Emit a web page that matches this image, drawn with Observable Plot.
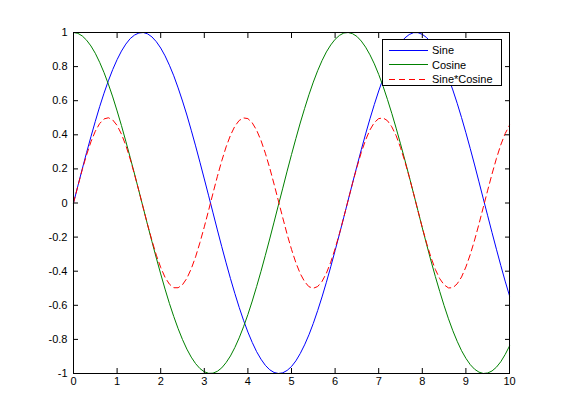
<!DOCTYPE html>
<html>
<head>
<meta charset="utf-8">
<script src="https://cdn.jsdelivr.net/npm/d3@7"></script>
<script src="https://cdn.jsdelivr.net/npm/@observablehq/plot@0.6"></script>
<style>
  html, body { margin: 0; padding: 0; background: white; }
  #wrap { position: relative; width: 561px; height: 420px; }
  #legend {
    position: absolute; left: 382px; top: 39px; width: 120px; height: 47px;
    border: 1px solid black; background: white; box-sizing: border-box;
    font-family: "Liberation Sans", Arial, sans-serif; font-size: 11px; color: black;
    padding-top: 3px;
  }
  .row { display: flex; align-items: center; height: 14.5px; }
  .row svg { margin-left: 6px; margin-right: 4px; }
</style>
</head>
<body>
<div id="wrap"><div id="legend"></div></div>
<script>
// x samples
const xs = [0,0.1,0.2,0.3,0.4,0.5,0.6,0.7,0.8,0.9,1,1.1,1.2,1.3,1.4,1.5,1.6,1.7,1.8,1.9,2,2.1,2.2,2.3,2.4,2.5,2.6,2.7,2.8,2.9,3,3.1,3.2,3.3,3.4,3.5,3.6,3.7,3.8,3.9,4,4.1,4.2,4.3,4.4,4.5,4.6,4.7,4.8,4.9,5,5.1,5.2,5.3,5.4,5.5,5.6,5.7,5.8,5.9,6,6.1,6.2,6.3,6.4,6.5,6.6,6.7,6.8,6.9,7,7.1,7.2,7.3,7.4,7.5,7.6,7.7,7.8,7.9,8,8.1,8.2,8.3,8.4,8.5,8.6,8.7,8.8,8.9,9,9.1,9.2,9.3,9.4,9.5,9.6,9.7,9.8,9.9,10];
const sine = [0.000,0.100,0.199,0.296,0.389,0.479,0.565,0.644,0.717,0.783,0.841,0.891,0.932,0.964,0.985,0.997,1.000,0.992,0.974,0.946,0.909,0.863,0.808,0.746,0.675,0.598,0.516,0.427,0.335,0.239,0.141,0.042,-0.058,-0.158,-0.256,-0.351,-0.443,-0.530,-0.612,-0.688,-0.757,-0.818,-0.872,-0.916,-0.952,-0.978,-0.994,-1.000,-0.996,-0.982,-0.959,-0.926,-0.883,-0.832,-0.773,-0.706,-0.631,-0.551,-0.465,-0.374,-0.279,-0.182,-0.083,0.017,0.117,0.215,0.312,0.405,0.494,0.578,0.657,0.729,0.794,0.850,0.899,0.938,0.968,0.988,0.999,0.999,0.989,0.970,0.941,0.902,0.855,0.798,0.734,0.663,0.585,0.501,0.412,0.319,0.223,0.124,0.024,-0.075,-0.174,-0.271,-0.366,-0.458,-0.544];
const cosine = [1.000,0.995,0.980,0.955,0.921,0.878,0.825,0.765,0.697,0.622,0.540,0.454,0.362,0.267,0.170,0.071,-0.029,-0.129,-0.227,-0.323,-0.416,-0.505,-0.589,-0.666,-0.737,-0.801,-0.857,-0.904,-0.942,-0.971,-0.990,-0.999,-0.998,-0.987,-0.967,-0.936,-0.897,-0.848,-0.791,-0.726,-0.654,-0.575,-0.490,-0.401,-0.307,-0.211,-0.112,-0.012,0.087,0.187,0.284,0.378,0.469,0.554,0.635,0.709,0.776,0.835,0.886,0.927,0.960,0.983,0.997,1.000,0.993,0.977,0.950,0.914,0.869,0.816,0.754,0.685,0.608,0.526,0.439,0.347,0.252,0.155,0.055,-0.045,-0.146,-0.244,-0.340,-0.432,-0.519,-0.602,-0.679,-0.749,-0.811,-0.866,-0.911,-0.948,-0.975,-0.992,-1.000,-0.997,-0.985,-0.963,-0.931,-0.889,-0.839];
const sineCosine = [0.000,0.099,0.195,0.282,0.359,0.421,0.466,0.493,0.500,0.487,0.455,0.404,0.338,0.258,0.167,0.071,-0.029,-0.128,-0.221,-0.306,-0.378,-0.436,-0.476,-0.497,-0.497,-0.479,-0.442,-0.386,-0.316,-0.232,-0.140,-0.042,0.058,0.156,0.247,0.329,0.397,0.450,0.484,0.499,0.495,0.470,0.427,0.367,0.292,0.206,0.111,0.012,-0.087,-0.184,-0.272,-0.350,-0.414,-0.461,-0.491,-0.500,-0.490,-0.460,-0.412,-0.347,-0.268,-0.179,-0.083,0.017,0.116,0.210,0.296,0.370,0.429,0.472,0.495,0.499,0.483,0.447,0.395,0.325,0.244,0.153,0.055,-0.045,-0.144,-0.237,-0.320,-0.390,-0.444,-0.480,-0.498,-0.497,-0.474,-0.434,-0.375,-0.302,-0.217,-0.123,-0.024,0.075,0.171,0.261,0.341,0.407,0.456];

const seriesNames = ["Sine", "Cosine", "Sine*Cosine"];
const seriesColors = ["#0000ff", "#008000", "#ff0000"];
const seriesDash = [null, null, "6,4"];
const xTicks = [0,1,2,3,4,5,6,7,8,9,10];
const yTicks = [-1,-0.8,-0.6,-0.4,-0.2,0,0.2,0.4,0.6,0.8,1];

const seriesValues = [sine, cosine, sineCosine];
const tables = seriesValues.map((vals, i) => xs.map((x, j) => ({x, y: vals[j], series: seriesNames[i]})));

const fmt = d => String(+d.toFixed(1));
const font = '"Liberation Sans Narrow", "Liberation Sans", Arial, sans-serif';

const chart = Plot.plot({
  width: 561, height: 420,
  marginLeft: 73, marginRight: 52, marginTop: 32, marginBottom: 47,
  x: {domain: [0, 10], label: null},
  y: {domain: [-1, 1], label: null},
  style: {fontFamily: font, fontSize: "11px", background: "white", color: "black", overflow: "visible"},
  marks: [
    ...tables.map((t, i) => Plot.line(t, {x: "x", y: "y", stroke: seriesColors[i], strokeWidth: 1, strokeDasharray: seriesDash[i]})),
    Plot.frame({stroke: "black", strokeWidth: 1}),
    Plot.axisX({ticks: xTicks, anchor: "bottom", tickSize: -5, tickPadding: 9, tickFormat: fmt, label: null}),
    Plot.axisX({ticks: xTicks, anchor: "top", tickSize: -5, tickFormat: () => "", label: null}),
    Plot.axisY({ticks: yTicks, anchor: "left", tickSize: -5, tickPadding: 11, tickFormat: fmt, label: null}),
    Plot.axisY({ticks: yTicks, anchor: "right", tickSize: -5, tickFormat: () => "", label: null})
  ]
});
document.getElementById("wrap").prepend(chart);

const legend = document.getElementById("legend");
seriesNames.forEach((name, i) => {
  const row = document.createElement("div");
  row.className = "row";
  const dash = seriesDash[i] ? ` stroke-dasharray="${seriesDash[i]}"` : "";
  row.innerHTML = `<svg width="39" height="3"><line x1="0" y1="1.5" x2="39" y2="1.5" stroke="${seriesColors[i]}" stroke-width="1"${dash}/></svg><span>${name}</span>`;
  legend.appendChild(row);
});
</script>
</body>
</html>
